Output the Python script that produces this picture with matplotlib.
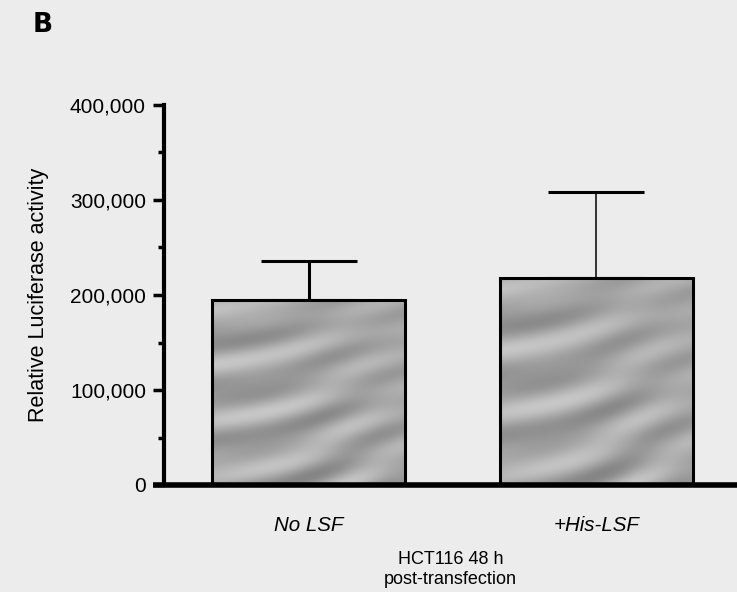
import matplotlib
matplotlib.use("Agg")
import numpy as np
import matplotlib.pyplot as plt
from matplotlib.ticker import FuncFormatter, MultipleLocator

# Luciferase reporter data (HCT116, 48 h post-transfection)
conditions = ["No LSF", "+His-LSF"]
means = [195000, 218000]
upper_err = [41000, 90000]
yticks = [0, 100000, 200000, 300000, 400000]

plt.rcParams["font.family"] = ["Liberation Sans", "DejaVu Sans"]

fig = plt.figure(figsize=(7.37, 5.92), dpi=100)
bg = "#ececec"
fig.patch.set_facecolor(bg)

W, H = 737, 592
ax = fig.add_axes([164 / W, (H - 485) / H, (W - 164) / W, (485 - 105) / H])
ax.set_facecolor(bg)

x = list(range(len(conditions)))
bar_w = 0.67
bars = ax.bar(x, means, width=bar_w, color="#a6a6a6", edgecolor="black",
              linewidth=2.2, zorder=3)

# soft diagonal grey streaks inside each bar
gx, gy = np.meshgrid(np.linspace(0, 1, 300), np.linspace(0, 1, 300))
shade = (np.sin(22 * (gy - 0.35 * gx) + 1.5 * np.sin(4 * gx))
         * (0.6 + 0.4 * np.sin(3 * gx + 2 * gy))
         + 0.3 * np.sin(40 * (gy - 0.2 * gx) + 0.7))
for b in bars:
    bx, by = b.get_x(), b.get_y()
    bw, bh = b.get_width(), b.get_height()
    im = ax.imshow(shade, cmap="gray", vmin=-6.5, vmax=3.5, aspect="auto",
                   extent=[bx, bx + bw, by, by + bh], origin="lower",
                   zorder=2, interpolation="bilinear")
    im.set_clip_path(b)
    b.set_facecolor("none")

# upward-only error bars, thicker stem on the first bar
stem_lw = [2.2, 1.1]
for xi, m, e, lw in zip(x, means, upper_err, stem_lw):
    ax.errorbar([xi], [m], yerr=[[0], [e]], fmt="none", ecolor="black",
                elinewidth=lw, capsize=34.5, capthick=2.2, zorder=1)

ax.set_xlim(-0.502, 1.488)
ax.set_ylim(0, 400000)
ax.set_yticks(yticks)
ax.yaxis.set_minor_locator(MultipleLocator(50000))
ax.yaxis.set_major_formatter(FuncFormatter(lambda v, p: f"{int(v):,}"))
ax.tick_params(axis="y", which="major", direction="out", length=8, width=2.5,
               labelsize=15, pad=5)
ax.tick_params(axis="y", which="minor", direction="out", length=4, width=2.5)

ax.set_xticks(x)
ax.set_xticklabels(conditions, fontsize=14.8, style="italic")
ax.tick_params(axis="x", length=0, pad=22)

for s in ["top", "right"]:
    ax.spines[s].set_visible(False)
ax.spines["left"].set_linewidth(3)
ax.spines["bottom"].set_linewidth(4)
ax.spines["bottom"].set_bounds(-0.54, 1.488)
ax.spines["bottom"].set_capstyle("butt")

ax.set_ylabel("Relative Luciferase activity", fontsize=15.5, labelpad=15)
ax.set_xlabel("HCT116 48 h\npost-transfection", fontsize=13, labelpad=12,
              linespacing=1.25)

fig.text(33 / W, 1 - 25 / H, "B", fontsize=19, fontweight="bold",
         va="center", ha="left", family=["DejaVu Sans"])

fig.savefig("out.png", dpi=100, facecolor=bg)
